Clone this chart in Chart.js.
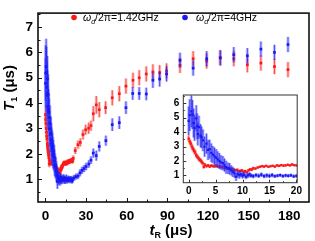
<!DOCTYPE html>
<html><head><meta charset="utf-8">
<script src="https://cdn.jsdelivr.net/npm/chart.js@4/dist/chart.umd.min.js"></script>
<style>
html,body{margin:0;padding:0;background:#fff;}
#wrap{position:relative;width:315px;height:241px;overflow:hidden;}
#main{position:absolute;left:0;top:0;width:315px;height:241px;}
#inset{position:absolute;left:160px;top:85px;width:145px;height:115px;}
</style></head><body>
<div id="wrap"><canvas id="main" width="315" height="241"></canvas><canvas id="inset" width="145" height="115"></canvas></div>
<script>
// ---------- data ----------
const redDenseT = [0,0.2,0.4,0.6,0.8,1.0,1.2,1.4,1.6,1.8,2.0,2.2,2.4,2.6,2.8,3.0,
  3.3,3.6,3.9,4.2,4.5,4.8,5.1,5.4,5.7,6.0,6.3,6.6,6.9,7.2,7.5,7.8,8.1,8.4,8.7,9.0,9.3,9.6,9.9,10.2,10.5,10.8,11.1,11.4,11.7,12.0,
  12.4,12.8,13.2,13.6,14.0,14.4,14.8,15.2,15.6,16.0,16.4,16.8,17.2,17.6,18.0,18.4,18.8,19.2,19.6,20.0];
const redDenseV = [3.55,3.35,3.2,3.0,2.85,2.7,2.6,2.4,2.3,2.2,2.1,2.05,1.95,1.85,1.6,1.75,
  1.65,1.7,1.62,1.68,1.65,1.63,1.66,1.62,1.64,1.6,1.58,1.55,1.5,1.52,1.45,1.47,1.42,1.4,1.36,1.38,1.3,1.32,1.35,1.25,1.3,1.22,1.35,1.42,1.4,1.5,
  1.48,1.55,1.6,1.65,1.62,1.66,1.6,1.64,1.67,1.62,1.7,1.66,1.72,1.68,1.7,1.74,1.7,1.76,1.72,1.7];
const redDenseE = [0.22,0.2,0.2,0.2,0.18,0.18,0.18,0.16,0.16,0.15,0.15,0.14,0.14,0.13,0.13,0.12,
  0.1,0.1,0.09,0.1,0.1,0.09,0.1,0.1,0.09,0.1,0.1,0.1,0.09,0.1,0.1,0.1,0.09,0.1,0.1,0.1,0.1,0.09,0.1,0.1,0.1,0.1,0.1,0.09,0.1,0.1,
  0.08,0.08,0.08,0.08,0.08,0.08,0.08,0.08,0.08,0.08,0.08,0.08,0.08,0.08,0.08,0.08,0.08,0.08,0.08,0.08];
const redSparseT = [20.5,22,24,25.7,27.7,29.7,31.9,33.6,35.3,37.5,39.7,44.4,49.3,54.5,59.4,64.6,69.2,74.4,79.3,84.3,89.4,99.3,109,119,129,139,149,159,169,179];
const redSparseV = [1.82,2.13,2.36,2.45,2.76,2.95,3.01,3.11,3.58,3.93,3.74,3.82,4.21,4.37,4.67,4.9,5.0,5.15,5.23,5.2,5.27,5.49,5.75,5.66,5.78,5.75,5.51,5.58,5.44,5.32];
const redSparseE = [0.12,0.14,0.16,0.16,0.2,0.2,0.22,0.2,0.3,0.35,0.3,0.25,0.3,0.3,0.3,0.3,0.3,0.3,0.3,0.3,0.3,0.3,0.3,0.3,0.3,0.3,0.3,0.3,0.3,0.3];

const blueDenseT = [0,0.2,0.5,0.7,0.9,1.1,1.4,1.55,1.7,1.9,2.2,2.4,2.65,2.95,3.3,3.6,3.9,4.2,4.5,4.8,
  5.1,5.4,5.7,6.0,6.35,6.65,6.95,7.3,7.6,7.9,8.2,8.5,8.8,9.1,9.4,9.7,10.0,10.3,10.65,11.0,
  11.3,11.6,12.0,12.5,13.0,13.5,14.0,14.5,15.0,15.5,16.0,16.5,17.0,17.5,18.0,18.5,19.0,19.5,20.0];
const blueDenseV = [4.78,5.18,5.44,5.22,4.63,4.3,4.96,4.41,3.87,4.34,3.75,3.64,3.43,2.99,3.21,2.77,2.82,2.56,2.44,2.33,
  2.23,2.12,2.0,1.9,1.85,1.72,1.57,1.5,1.46,1.35,1.25,1.15,0.92,1.1,1.03,1.08,0.99,1.05,0.92,1.0,
  1.07,0.99,0.95,1.02,0.98,1.05,0.96,1.0,0.97,1.03,0.95,0.99,1.02,0.96,1.0,0.98,1.01,0.94,0.97];
const blueDenseE = [1.0,1.1,1.1,1.0,1.0,0.9,0.9,0.9,0.8,0.8,0.8,0.75,0.75,0.7,0.7,0.7,0.65,0.65,0.6,0.6,
  0.6,0.55,0.55,0.5,0.5,0.45,0.45,0.4,0.4,0.35,0.35,0.3,0.3,0.25,0.25,0.2,0.2,0.2,0.18,0.18,
  0.15,0.15,0.15,0.15,0.15,0.15,0.15,0.15,0.15,0.15,0.12,0.12,0.12,0.12,0.12,0.12,0.12,0.12,0.12];
const blueSparseT = [21,22.5,24,25.5,27,28.5,30,32,33.6,35.3,37.5,39.7,44.6,49.3,54.5,59.4,64.4,69.2,74.4,79.3,84.3,89.4,99.3,109,119,129,139,149,159,169,179];
const blueSparseV = [1.05,1.1,1.12,1.25,1.35,1.42,1.5,1.6,1.75,2.03,1.93,2.29,2.52,3.15,3.23,3.82,4.38,4.38,4.36,4.9,4.95,5.15,5.69,5.38,5.75,5.79,5.91,5.87,6.13,6.0,6.31];
const blueSparseE = [0.12,0.12,0.12,0.14,0.14,0.14,0.15,0.15,0.15,0.18,0.2,0.2,0.2,0.25,0.25,0.25,0.25,0.25,0.25,0.3,0.3,0.3,0.3,0.3,0.3,0.3,0.3,0.3,0.3,0.3,0.3];

const mainXTicks = [0,30,60,90,120,150,180];
const mainXMinor = [15,45,75,105,135,165];
const mainYTicks = [1,2,3,4,5,6,7];
const mainYMinor = [0.5,1.5,2.5,3.5,4.5,5.5,6.5,7.5];
const insetXTicks = [0,5,10,15,20];
const insetXMinor = [2.5,7.5,12.5,17.5];
const insetYTicks = [1,2,3,4,5,6];
const insetYMinor = [1.5,2.5,3.5,4.5,5.5,6.5];

const redLabel = ['ω','d','/2π=1.42GHz'];
const blueLabel = ['ω','d','/2π=4GHz'];

// ---------- helpers ----------
const RED = 'rgb(250,25,25)', BLUE = 'rgb(25,25,245)';
function pts(T,V){ return T.map((t,i)=>({x:t,y:V[i]})); }
function mkDatasets(r){
  const bT = r ? blueDenseT.concat(blueSparseT) : blueDenseT;
  const bV = r ? blueDenseV.concat(blueSparseV) : blueDenseV;
  const bE = r ? blueDenseE.concat(blueSparseE) : blueDenseE;
  const rT = r ? redDenseT.concat(redSparseT) : redDenseT;
  const rV = r ? redDenseV.concat(redSparseV) : redDenseV;
  const rE = r ? redDenseE.concat(redSparseE) : redDenseE;
  return [
    {data:pts(bT,bV), errs:bE, errLight:'rgba(70,70,255,0.35)', errDark:'rgba(20,20,240,0.85)',
     backgroundColor:BLUE, borderColor:BLUE, pointStyle:'rect', pointRadius:r?1.9:1.6, borderWidth:0, showLine:false},
    {data:pts(rT,rV), errs:rE, errLight:'rgba(255,70,70,0.35)', errDark:'rgba(245,20,20,0.85)',
     backgroundColor:RED, borderColor:RED, pointStyle:'rect', pointRadius:r?1.9:1.6, borderWidth:0, showLine:false}
  ];
}
const errPlugin = {
  id:'errbars',
  beforeDatasetDraw(chart, args){
    const ds = chart.data.datasets[args.index];
    const ctx = chart.ctx, xs = chart.scales.x, ys = chart.scales.y, a = chart.chartArea;
    ctx.save();
    ctx.beginPath(); ctx.rect(a.left, a.top, a.right-a.left, a.bottom-a.top); ctx.clip();
    ds.data.forEach((p,i)=>{
      const e = ds.errs[i], x = xs.getPixelForValue(p.x);
      const y1 = ys.getPixelForValue(p.y - e), y2 = ys.getPixelForValue(p.y + e);
      ctx.strokeStyle = ds.errLight; ctx.lineWidth = 3;
      ctx.beginPath(); ctx.moveTo(x,y1); ctx.lineTo(x,y2); ctx.stroke();
      ctx.strokeStyle = ds.errDark; ctx.lineWidth = 0.8;
      ctx.beginPath(); ctx.moveTo(x,y1); ctx.lineTo(x,y2); ctx.stroke();
    });
    ctx.restore();
  }
};
function framePlugin(o){
  return {
    id:'frame',
    beforeDraw(chart){
      if(!o.bg) return;
      const a = chart.chartArea, ctx = chart.ctx;
      ctx.save(); ctx.fillStyle = '#fff'; ctx.fillRect(a.left, a.top, a.right-a.left, a.bottom-a.top); ctx.restore();
    },
    afterDatasetsDraw(chart){
      const a = chart.chartArea, ctx = chart.ctx, xs = chart.scales.x, ys = chart.scales.y;
      ctx.save();
      ctx.strokeStyle = o.color; ctx.lineWidth = o.lw;
      ctx.strokeRect(a.left, a.top, a.right-a.left, a.bottom-a.top);
      ctx.lineWidth = 1;
      ctx.beginPath();
      o.xMaj.forEach(v=>{const x=Math.round(xs.getPixelForValue(v))+0.5; ctx.moveTo(x,a.bottom); ctx.lineTo(x,a.bottom-o.maj);});
      o.xMin.forEach(v=>{const x=Math.round(xs.getPixelForValue(v))+0.5; ctx.moveTo(x,a.bottom); ctx.lineTo(x,a.bottom-o.min);});
      o.yMaj.forEach(v=>{const y=Math.round(ys.getPixelForValue(v))+0.5; ctx.moveTo(a.left,y); ctx.lineTo(a.left+o.maj,y);});
      o.yMin.forEach(v=>{const y=Math.round(ys.getPixelForValue(v))+0.5; if(y>a.top+1&&y<a.bottom-1){ctx.moveTo(a.left,y); ctx.lineTo(a.left+o.min,y);}});
      ctx.stroke();
      ctx.restore();
    }
  };
}
const FF = '"Liberation Sans", Arial, sans-serif';
function richWidth(ctx, parts){ let w=0; parts.forEach(p=>{ctx.font=p.f; w+=ctx.measureText(p.t).width;}); return w; }
function drawRich(ctx, parts, x, y){
  let cx = x;
  parts.forEach(p=>{ ctx.font = p.f; ctx.fillText(p.t, cx, y + (p.dy||0)); cx += ctx.measureText(p.t).width; });
}
const textPlugin = {
  id:'texts',
  afterDraw(chart){
    const ctx = chart.ctx;
    ctx.save();
    ctx.fillStyle = '#000'; ctx.textBaseline = 'alphabetic'; ctx.textAlign = 'left';
    // x title
    const xt = [{t:'t',f:'italic bold 15px '+FF},{t:'R',f:'bold 9px '+FF,dy:3},{t:' (μs)',f:'bold 15px '+FF}];
    const xw = richWidth(ctx, xt);
    drawRich(ctx, xt, 171 - xw/2, 235);
    // y title
    const yt = [{t:'T',f:'italic bold 15px '+FF},{t:'1',f:'bold 9px '+FF,dy:3},{t:' (μs)',f:'bold 15px '+FF}];
    const yw = richWidth(ctx, yt);
    ctx.save(); ctx.translate(0, 88); ctx.rotate(-Math.PI/2);
    drawRich(ctx, yt, -yw/2, 14);
    ctx.restore();
    // legend
    const lf = '10.5px '+FF, lfi = 'italic 10.5px '+FF, lfs = 'italic 7px '+FF;
    ctx.fillStyle = RED; ctx.beginPath(); ctx.arc(74, 17.5, 2.8, 0, Math.PI*2); ctx.fill();
    ctx.fillStyle = BLUE; ctx.beginPath(); ctx.arc(185, 17.5, 2.8, 0, Math.PI*2); ctx.fill();
    ctx.fillStyle = '#000';
    drawRich(ctx, [{t:redLabel[0],f:lfi},{t:redLabel[1],f:lfs,dy:2.5},{t:redLabel[2],f:lf}], 83, 21);
    drawRich(ctx, [{t:blueLabel[0],f:lfi},{t:blueLabel[1],f:lfs,dy:2.5},{t:blueLabel[2],f:lf}], 196, 21);
    ctx.restore();
  }
};

// ---------- main chart ----------
new Chart(document.getElementById('main'), {
  type:'scatter',
  data:{datasets: mkDatasets(true)},
  options:{
    responsive:false, animation:false, devicePixelRatio:1,
    layout:{padding:{left:0, top:5, right:6, bottom:0}},
    plugins:{legend:{display:false}, tooltip:{enabled:false}},
    scales:{
      x:{type:'linear', min:-5.5, max:194.5,
         afterBuildTicks: s=>{ s.ticks = mainXTicks.map(v=>({value:v})); },
         afterFit: s=>{ s.height = 39; },
         grid:{display:false, drawTicks:false}, border:{display:false},
         ticks:{font:{family:FF, size:13.5, weight:'bold'}, color:'#000', padding:6, maxRotation:0, autoSkip:false}},
      y:{type:'linear', min:0.1, max:7.55,
         afterBuildTicks: s=>{ s.ticks = mainYTicks.map(v=>({value:v})); },
         afterFit: s=>{ s.width = 38; },
         grid:{display:false, drawTicks:false}, border:{display:false},
         ticks:{font:{family:FF, size:13.5, weight:'bold'}, color:'#000', padding:5}}
    }
  },
  plugins:[errPlugin, framePlugin({color:'#111', lw:1.6, maj:4, min:2.5, xMaj:mainXTicks, xMin:mainXMinor, yMaj:mainYTicks, yMin:mainYMinor}), textPlugin]
});

// ---------- inset chart ----------
new Chart(document.getElementById('inset'), {
  type:'scatter',
  data:{datasets: mkDatasets(false)},
  options:{
    responsive:false, animation:false, devicePixelRatio:1,
    layout:{padding:{left:0, top:5, right:7.5, bottom:0}},
    plugins:{legend:{display:false}, tooltip:{enabled:false}},
    scales:{
      x:{type:'linear', min:-1, max:20.15,
         afterBuildTicks: s=>{ s.ticks = insetXTicks.map(v=>({value:v})); },
         afterFit: s=>{ s.height = 17.3; },
         grid:{display:false, drawTicks:false}, border:{display:false},
         ticks:{font:{family:FF, size:10, weight:'bold'}, color:'#000', padding:3, maxRotation:0, autoSkip:false}},
      y:{type:'linear', min:0.5, max:6.57,
         afterBuildTicks: s=>{ s.ticks = insetYTicks.map(v=>({value:v})); },
         afterFit: s=>{ s.width = 23.3; },
         grid:{display:false, drawTicks:false}, border:{display:false},
         ticks:{font:{family:FF, size:10, weight:'bold'}, color:'#000', padding:4}}
    }
  },
  plugins:[errPlugin, framePlugin({color:'#333', lw:1, maj:3, min:1.5, bg:true, xMaj:insetXTicks, xMin:insetXMinor, yMaj:insetYTicks, yMin:insetYMinor})]
});
</script>
</body></html>
